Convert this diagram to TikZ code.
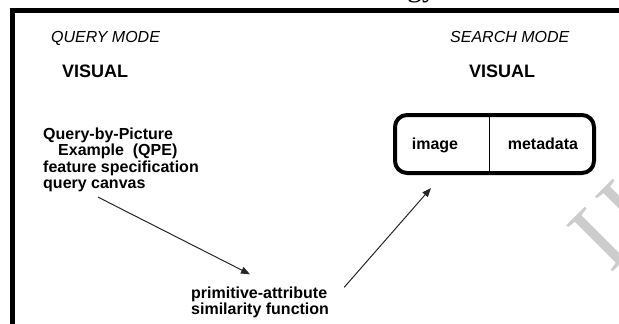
\documentclass[tikz,border=0pt]{standalone}
\usepackage{fontspec}
\setmainfont{Liberation Sans}
\newfontfamily\serifface{Liberation Serif}
\usetikzlibrary{arrows.meta,calc}

\tikzset{
  modelabel/.style={font=\itshape\fontsize{16}{19}\selectfont, anchor=base west, inner sep=0pt},
  visual/.style={font=\bfseries\fontsize{18}{21}\selectfont, anchor=base west, inner sep=0pt},
  blocktext/.style={font=\bfseries\fontsize{16}{16.5}\selectfont, align=left, anchor=north west, inner sep=0pt},
  cell/.style={font=\bfseries\fontsize{16}{19}\selectfont, anchor=base, inner sep=0pt},
  record/.style={draw, line width=4pt, rounded corners=12pt, minimum width=199pt, minimum height=58pt, inner sep=0pt},
  flow/.style={line width=1pt, draw=black!85, -{Triangle[length=9pt,width=7pt]}},
  frame/.style={line width=5pt, line join=miter},
}

\begin{document}
\begin{tikzpicture}[x=1pt,y=-1pt]
  \useasboundingbox (0,0) rectangle (619,324);
  \clip (0,0) rectangle (619,324);

  % tail of the page title above the panel
  \node[font=\serifface\fontsize{30}{30}\selectfont, anchor=base west, inner sep=0pt] (title) at (407,-3.5) {gy};

  % faint watermark in the lower right corner
  \node[rotate=45, anchor=base west, font=\serifface\fontsize{100}{100}\selectfont, text=black!20, inner sep=0pt] (wm) at (610,275) {IJ};

  % panel frame (left and top edges)
  \draw[frame] (12.5,340) -- (12.5,10.5) -- (640,10.5);

  % mode headings
  \node[modelabel] (qmode) at (51,42) {QUERY MODE};
  \node[modelabel] (smode) at (450,42) {SEARCH MODE};
  \node[visual] (qvis) at (62,77.5) {VISUAL};
  \node[visual] (svis) at (469,77.5) {VISUAL};

  % query side description
  \node[blocktext] (qpe) at (43,127.3) {Query-by-Picture\\
    \hspace*{15pt}Example\ \ (QPE)\\
    feature specification\\
    query canvas};

  % matching step
  \node[blocktext] (prim) at (191,286.3) {primitive-attribute\\similarity function};

  % search record: image | metadata
  \node[record] (rec) at (494.5,144) {};
  \coordinate (divx) at (489,0);
  \draw[line width=1pt] (rec.north -| divx) -- (rec.south -| divx);
  \node[cell] (img) at (435,149) {image};
  \node[cell] (meta) at (543,149) {metadata};

  % connectors
  \draw[flow] ($(qpe.south west)+(55,5)$) -- ($(prim.north west)+(59,-12)$);
  \draw[flow] ($(prim.north east)+(15,1)$) -- ($(rec.south west)+(38,13)$);
\end{tikzpicture}
\end{document}
